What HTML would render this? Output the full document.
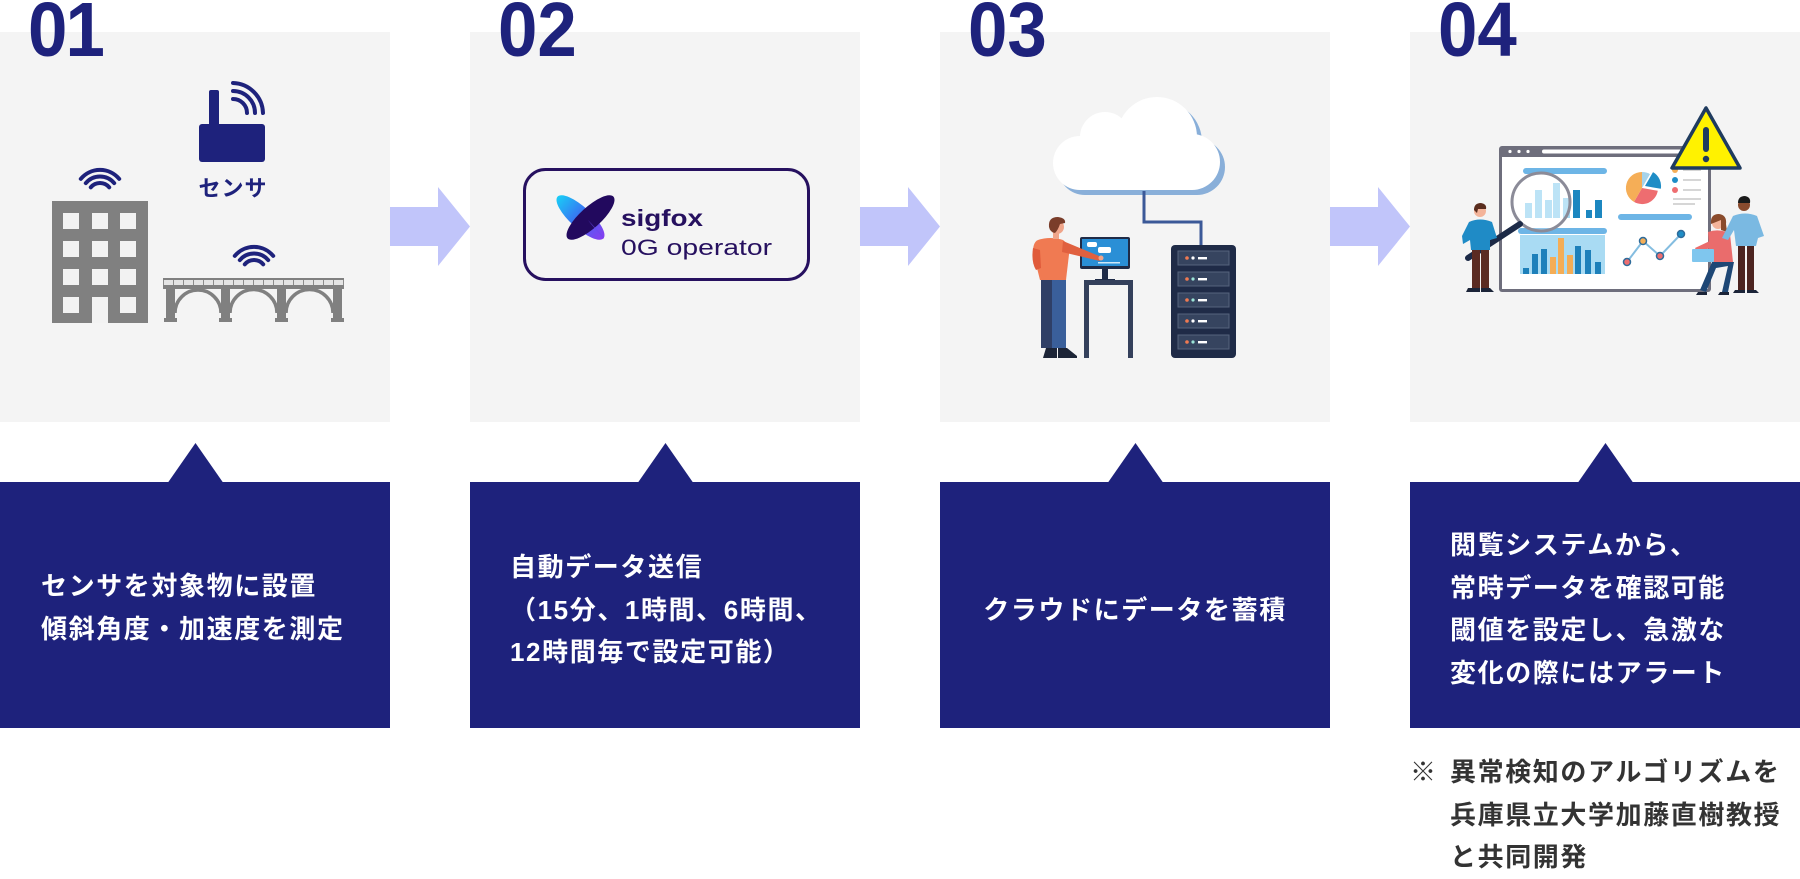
<!DOCTYPE html>
<html lang="ja">
<head>
<meta charset="utf-8">
<style>
  html,body{margin:0;padding:0;}
  body{width:1800px;height:870px;position:relative;overflow:hidden;background:#fff;
       font-family:"Liberation Sans","Noto Sans CJK JP",sans-serif;}
  .panel{position:absolute;top:32px;width:390px;height:390px;background:#f4f4f4;}
  .box{position:absolute;top:482px;width:390px;height:246px;background:#1e227c;}
  .num{position:absolute;top:-8px;font-family:"Liberation Sans",sans-serif;font-weight:700;
       font-size:77px;line-height:1;color:#1e227c;letter-spacing:0;white-space:nowrap;
       transform:scaleX(0.92);transform-origin:0 0;}
  .num .one{margin-left:-2px;}
  .t{position:absolute;color:#fff;font-family:"Liberation Sans","Noto Sans CJK JP",sans-serif;
     font-size:26px;font-weight:700;letter-spacing:1.6px;line-height:42.5px;white-space:nowrap;}
  .note{position:absolute;color:#333;font-family:"Liberation Sans","Noto Sans CJK JP",sans-serif;
     font-size:26px;font-weight:700;letter-spacing:1.6px;line-height:42.5px;white-space:nowrap;}
  svg{position:absolute;left:0;top:0;}
</style>
</head>
<body>

<div class="panel" style="left:0"></div>
<div class="panel" style="left:470px"></div>
<div class="panel" style="left:940px"></div>
<div class="panel" style="left:1410px"></div>

<div class="box" style="left:0"></div>
<div class="box" style="left:470px"></div>
<div class="box" style="left:940px"></div>
<div class="box" style="left:1410px"></div>

<svg width="1800" height="870" viewBox="0 0 1800 870" xmlns="http://www.w3.org/2000/svg">
  <defs>
    <linearGradient id="wing" x1="0" y1="0" x2="1" y2="0">
      <stop offset="0" stop-color="#19cdf6"/>
      <stop offset="0.5" stop-color="#3b6cf2"/>
      <stop offset="1" stop-color="#8a3cf0"/>
    </linearGradient>
  </defs>

  <!-- arrows -->
  <g fill="#c1c5fa">
    <polygon points="390,207 438,207 438,187 470,226.5 438,266 438,246 390,246"/>
    <polygon points="860,207 908,207 908,187 940,226.5 908,266 908,246 860,246"/>
    <polygon points="1330,207 1378,207 1378,187 1410,226.5 1378,266 1378,246 1330,246"/>
  </g>

  <!-- speech triangles -->
  <g fill="#1e227c">
    <polygon points="168,482.5 195.5,443 223,482.5"/>
    <polygon points="638,482.5 665.5,443 693,482.5"/>
    <polygon points="1108,482.5 1135.5,443 1163,482.5"/>
    <polygon points="1578,482.5 1605.5,443 1633,482.5"/>
  </g>

  <!-- ===== Panel 1 ===== -->
  <g fill="#1e227c">
    <rect x="209" y="90" width="10" height="38" rx="2"/>
    <rect x="199" y="124" width="66" height="38" rx="3"/>
  </g>
  <g fill="none" stroke="#1e227c" stroke-width="4" stroke-linecap="round">
    <path d="M233 83 A31 31 0 0 1 263 113"/>
    <path d="M233 91 A22 22 0 0 1 255 113"/>
    <path d="M233 99 A14 14 0 0 1 247 113"/>
  </g>
  <g fill="none" stroke="#1e227c" stroke-width="4" stroke-linecap="round">
    <path d="M80.8 178.9 A25 25 0 0 1 119.2 178.9"/>
    <path d="M85.8 183.1 A18.5 18.5 0 0 1 114.2 183.1"/>
    <path d="M90.8 187.3 A12 12 0 0 1 109.2 187.3"/>
  </g>
  <g fill="none" stroke="#1e227c" stroke-width="4" stroke-linecap="round">
    <path d="M234.8 255.9 A25 25 0 0 1 273.2 255.9"/>
    <path d="M239.8 260.1 A18.5 18.5 0 0 1 268.2 260.1"/>
    <path d="M244.8 264.3 A12 12 0 0 1 263.2 264.3"/>
  </g>
  <rect x="52" y="201" width="96" height="122" fill="#808080"/>
  <g fill="#f2f2f2">
    <rect x="63" y="213" width="16" height="16"/><rect x="92" y="213" width="16" height="16"/><rect x="120" y="213" width="16" height="16"/>
    <rect x="63" y="241" width="16" height="16"/><rect x="92" y="241" width="16" height="16"/><rect x="120" y="241" width="16" height="16"/>
    <rect x="63" y="269" width="16" height="16"/><rect x="92" y="269" width="16" height="16"/><rect x="120" y="269" width="16" height="16"/>
    <rect x="63" y="297" width="16" height="16"/><rect x="92" y="297" width="16" height="26"/><rect x="120" y="297" width="16" height="16"/>
  </g>
  <rect x="163" y="278" width="181" height="2" fill="#808080"/>
  <rect x="163" y="280" width="181" height="5" fill="#e4e4e4"/>
  <g fill="#8c8c8c">
    <rect x="163" y="280" width="1" height="5"/><rect x="173" y="280" width="1" height="5"/><rect x="183" y="280" width="1" height="5"/>
    <rect x="193" y="280" width="1" height="5"/><rect x="203" y="280" width="1" height="5"/><rect x="213" y="280" width="1" height="5"/>
    <rect x="223" y="280" width="1" height="5"/><rect x="233" y="280" width="1" height="5"/><rect x="243" y="280" width="1" height="5"/>
    <rect x="253" y="280" width="1" height="5"/><rect x="263" y="280" width="1" height="5"/><rect x="273" y="280" width="1" height="5"/>
    <rect x="283" y="280" width="1" height="5"/><rect x="293" y="280" width="1" height="5"/><rect x="303" y="280" width="1" height="5"/>
    <rect x="313" y="280" width="1" height="5"/><rect x="323" y="280" width="1" height="5"/><rect x="333" y="280" width="1" height="5"/>
    <rect x="343" y="280" width="1" height="5"/>
  </g>
  <rect x="163" y="285" width="181" height="4" fill="#808080"/>
  <g fill="#808080">
    <rect x="166" y="289" width="9" height="33"/><rect x="164" y="318" width="13" height="4"/>
    <rect x="221" y="289" width="9" height="33"/><rect x="219" y="318" width="13" height="4"/>
    <rect x="277" y="289" width="9" height="33"/><rect x="275" y="318" width="13" height="4"/>
    <rect x="333" y="289" width="9" height="33"/><rect x="331" y="318" width="13" height="4"/>
  </g>
  <g fill="none" stroke="#808080" stroke-width="3.5">
    <path d="M175 313 A23 23 0 0 1 221 313"/>
    <path d="M230 313 A23.5 23.5 0 0 1 277 313"/>
    <path d="M286 313 A23.5 23.5 0 0 1 333 313"/>
  </g>

  <!-- ===== Panel 2 : sigfox ===== -->
  <rect x="524.5" y="169.5" width="284" height="110" rx="21" fill="none" stroke="#26105f" stroke-width="3"/>
  <ellipse cx="580.5" cy="217.5" rx="31" ry="10.5" transform="rotate(42.3 580.5 217.5)" fill="url(#wing)"/>
  <ellipse cx="590.5" cy="217.5" rx="31" ry="10.5" transform="rotate(-42.3 590.5 217.5)" fill="#22095e"/>
  <path d="M588 220 L601 234 Q606 240 603 238 L591 224 Z" fill="#6a48f0" opacity="0.7"/>
  <text x="621" y="226" font-family="Liberation Sans, sans-serif" font-weight="700" font-size="23" fill="#26105f" textLength="82" lengthAdjust="spacingAndGlyphs">sigfox</text>
  <text x="621" y="255" font-family="Liberation Sans, sans-serif" font-size="22" fill="#26105f" textLength="151" lengthAdjust="spacingAndGlyphs">0G operator</text>

  <!-- ===== Panel 3 : cloud ===== -->
  <g fill="#89afd9" transform="translate(5 5)">
    <circle cx="1080" cy="163" r="27"/><circle cx="1105" cy="137" r="25"/>
    <circle cx="1157" cy="137" r="40"/><circle cx="1192" cy="162" r="28"/>
    <rect x="1080" y="150" width="112" height="40"/>
  </g>
  <g fill="#ffffff">
    <circle cx="1080" cy="163" r="27"/><circle cx="1105" cy="137" r="25"/>
    <circle cx="1157" cy="137" r="40"/><circle cx="1192" cy="162" r="28"/>
    <rect x="1080" y="150" width="112" height="40"/>
  </g>
  <path d="M1144 191 V222 H1201 V246" fill="none" stroke="#3b5998" stroke-width="3"/>
  <rect x="1171" y="245" width="65" height="113" rx="4" fill="#1f2b47"/>
  <g fill="#36445f" stroke="#56637c" stroke-width="1">
    <rect x="1178" y="251" width="51" height="14"/>
    <rect x="1178" y="272" width="51" height="14"/>
    <rect x="1178" y="293" width="51" height="14"/>
    <rect x="1178" y="314" width="51" height="14"/>
    <rect x="1178" y="335" width="51" height="14"/>
  </g>
  <g>
    <circle cx="1187" cy="258" r="1.8" fill="#f07a52"/><circle cx="1193" cy="258" r="1.6" fill="#fff"/><rect x="1198" y="257" width="9" height="2.4" fill="#fff"/>
    <circle cx="1187" cy="279" r="1.8" fill="#f07a52"/><circle cx="1193" cy="279" r="1.6" fill="#9be3d6"/><rect x="1198" y="278" width="9" height="2.4" fill="#fff"/>
    <circle cx="1187" cy="300" r="1.8" fill="#f07a52"/><circle cx="1193" cy="300" r="1.6" fill="#9be3d6"/><rect x="1198" y="299" width="9" height="2.4" fill="#fff"/>
    <circle cx="1187" cy="321" r="1.8" fill="#f07a52"/><circle cx="1193" cy="321" r="1.6" fill="#fff"/><rect x="1198" y="320" width="9" height="2.4" fill="#fff"/>
    <circle cx="1187" cy="342" r="1.8" fill="#f07a52"/><circle cx="1193" cy="342" r="1.6" fill="#9be3d6"/><rect x="1198" y="341" width="9" height="2.4" fill="#fff"/>
  </g>
  <rect x="1080" y="237" width="50" height="32" rx="2" fill="#1f2b47"/>
  <rect x="1082" y="239" width="46" height="27" fill="#2a8fd6"/>
  <rect x="1087" y="242" width="10" height="5" rx="2" fill="#fff"/>
  <rect x="1098" y="247" width="13" height="6" rx="2" fill="#fff"/>
  <rect x="1098" y="262" width="22" height="1.5" fill="#cfe8f8"/>
  <rect x="1102" y="269" width="6" height="10" fill="#1f2b47"/>
  <rect x="1095" y="279" width="20" height="2" fill="#1f2b47"/>
  <rect x="1084" y="280" width="49" height="5" fill="#34405b"/>
  <rect x="1084" y="285" width="5" height="73" fill="#34405b"/>
  <rect x="1128" y="285" width="5" height="73" fill="#34405b"/>
  <rect x="1041" y="278" width="12" height="70" fill="#2f3f66"/>
  <rect x="1052" y="278" width="14" height="70" fill="#3a5f9a"/>
  <path d="M1046 348 h11 v10 h-14 z" fill="#1c2436"/>
  <path d="M1058 348 h9 l10 8 v2 h-19 z" fill="#1c2436"/>
  <path d="M1038 240 Q1050 236 1063 240 L1070 246 L1066 280 L1040 280 L1033 252 Q1033 242 1038 240 Z" fill="#f07a52"/>
  <path d="M1033 248 Q1031 262 1036 270 L1041 268 L1040 250 Z" fill="#e05a3a"/>
  <path d="M1063 241 L1099 256 L1100 261 L1062 252 Z" fill="#e0603f"/>
  <circle cx="1101" cy="258" r="2.5" fill="#f0a58a"/>
  <rect x="1053" y="231" width="6" height="8" fill="#f0a58a"/>
  <circle cx="1057" cy="227" r="7" fill="#f0a58a"/>
  <path d="M1049 227 Q1048 217 1058 217 Q1066 218 1065 223 L1060 224 Q1058 230 1055 233 Q1050 232 1049 227 Z" fill="#7a3d2a"/>

  <!-- ===== Panel 4 : dashboard ===== -->
  <rect x="1499" y="146" width="212" height="146" rx="3" fill="#6e6e7c"/>
  <rect x="1502" y="157" width="206" height="132" fill="#ffffff"/>
  <circle cx="1510" cy="151.5" r="1.6" fill="#fff"/><circle cx="1519" cy="151.5" r="1.6" fill="#fff"/><circle cx="1528" cy="151.5" r="1.6" fill="#fff"/>
  <rect x="1542" y="149.5" width="140" height="4" rx="2" fill="#fff"/>
  <g fill="#6db5e6">
    <rect x="1523" y="168" width="84" height="6" rx="3"/>
    <rect x="1518" y="228" width="89" height="6" rx="3"/>
    <rect x="1618" y="214" width="74" height="6" rx="3"/>
  </g>
  <g fill="#1c87c0">
    <rect x="1573" y="190" width="7" height="28"/><rect x="1586" y="210" width="6" height="8"/><rect x="1595" y="200" width="7" height="18"/>
  </g>
  <g fill="#a6daf3">
    <rect x="1525" y="203" width="7" height="15"/><rect x="1535" y="190" width="7" height="28"/>
    <rect x="1545" y="200" width="7" height="18"/><rect x="1553" y="183" width="7" height="35"/><rect x="1563" y="198" width="7" height="20"/>
  </g>
  <rect x="1520" y="235" width="85" height="39" fill="#a9dbf3"/>
  <g fill="#1d80ba">
    <rect x="1523" y="268" width="6" height="6"/><rect x="1532" y="254" width="6" height="20"/><rect x="1541" y="249" width="6" height="25"/>
    <rect x="1575" y="246" width="6" height="28"/><rect x="1585" y="250" width="6" height="24"/><rect x="1595" y="262" width="6" height="12"/>
  </g>
  <g fill="#f4ad56">
    <rect x="1550" y="257" width="6" height="17"/><rect x="1558" y="238" width="6" height="36"/><rect x="1567" y="255" width="6" height="19"/>
  </g>
  <circle cx="1541" cy="202" r="29" fill="#ffffff" fill-opacity="0.25" stroke="#8b8b98" stroke-width="3"/>
  <line x1="1520" y1="224" x2="1468" y2="258" stroke="#1c2a47" stroke-width="6" stroke-linecap="round"/>
  <path d="M1642 188 L1657.8 190.8 A16 16 0 0 1 1634 201.9 Z" fill="#ee6d70"/>
  <path d="M1642 188 L1634 201.9 A16 16 0 0 1 1642 172 Z" fill="#f5ae57"/>
  <path d="M1642 188 L1642 172 A16 16 0 0 1 1650 174.1 Z" fill="#a6d3ea"/>
  <path d="M1645 186 L1653 172.1 A16 16 0 0 1 1660.8 188.8 Z" fill="#1f8dc6"/>
  <circle cx="1675" cy="170" r="3" fill="#f5ae57"/><circle cx="1675" cy="180" r="3" fill="#1f8dc6"/><circle cx="1675" cy="190" r="3" fill="#ee6d70"/>
  <g fill="#d6d6d6">
    <rect x="1683" y="169" width="18" height="2"/><rect x="1683" y="179" width="18" height="2"/><rect x="1683" y="189" width="18" height="2"/>
    <rect x="1673" y="198" width="28" height="2"/><rect x="1673" y="203" width="22" height="2"/>
  </g>
  <polyline points="1627,262 1643,241 1660,256 1681,234" fill="none" stroke="#84bde0" stroke-width="2"/>
  <g stroke="#2e6b9a" stroke-width="1.5">
    <circle cx="1627" cy="262" r="3.5" fill="#ee6d70"/><circle cx="1643" cy="241" r="3.5" fill="#f5ae57"/>
    <circle cx="1660" cy="256" r="3.5" fill="#ee6d70"/><circle cx="1681" cy="234" r="3.5" fill="#1f8dc6"/>
  </g>
  <polygon points="1706,108 1672,168 1740,168" fill="#fff200" stroke="#1f3b5e" stroke-width="3.5" stroke-linejoin="round"/>
  <rect x="1703" y="127" width="6" height="25" rx="3" fill="#1f3b5e"/>
  <circle cx="1706" cy="159" r="3.2" fill="#1f3b5e"/>
  <rect x="1472" y="248" width="8" height="40" fill="#5b2b22"/><rect x="1481" y="248" width="8" height="40" fill="#5b2b22"/>
  <path d="M1468 288 h12 v4 h-14 z M1481 288 h9 l4 4 h-13 z" fill="#1b2438"/>
  <path d="M1469 222 Q1480 217 1492 222 L1497 238 L1490 240 L1490 250 L1471 250 L1470 240 L1463 244 L1462 236 Z" fill="#1f8bc6"/>
  <circle cx="1480" cy="211" r="6" fill="#f4b49a"/>
  <path d="M1474 210 Q1474 203 1481 203 Q1487 204 1486 209 L1478 209 L1477 213 Z" fill="#5a2d1e"/>
  <path d="M1712 262 L1700 290 L1706 292 L1716 268 L1728 266 L1722 292 L1728 292 L1734 262 Z" fill="#1e4775"/>
  <path d="M1698 292 h9 v3 h-11 z M1720 292 h9 v3 h-11 z" fill="#1b2438"/>
  <path d="M1708 232 Q1720 228 1730 234 L1733 262 L1710 262 Z" fill="#ea6c6c"/>
  <path d="M1712 240 L1695 248 L1697 252 L1714 247 Z" fill="#ea6c6c"/>
  <rect x="1692" y="249" width="22" height="13" rx="1" fill="#7fc6ee"/>
  <circle cx="1718" cy="223" r="6" fill="#f4b49a"/>
  <path d="M1711 224 Q1710 214 1719 214 Q1727 215 1726 224 L1727 232 L1721 230 L1721 220 Z" fill="#8a4b2c"/>
  <rect x="1738" y="245" width="7" height="45" fill="#4c2420"/><rect x="1747" y="245" width="7" height="45" fill="#4c2420"/>
  <path d="M1735 290 h10 v3 h-12 z M1747 290 h9 l3 3 h-12 z" fill="#1b2438"/>
  <path d="M1733 216 Q1745 211 1757 216 L1764 236 L1758 238 L1756 246 L1736 246 L1734 230 L1728 240 L1722 238 Z" fill="#7ab9e2"/>
  <circle cx="1744" cy="205" r="6" fill="#8a4b2e"/>
  <path d="M1738 203 Q1738 196 1745 196 Q1751 197 1750 203 Z" fill="#1a1a1a"/>
</svg>

<!-- step numbers -->
<div class="num" style="left:28px">0<span class="one">1</span></div>
<div class="num" style="left:498px">02</div>
<div class="num" style="left:968px">03</div>
<div class="num" style="left:1438px">04</div>

<!-- sensor label -->
<div style="position:absolute;left:196px;top:174px;width:74px;text-align:center;font-family:'Liberation Sans','Noto Sans CJK JP',sans-serif;font-size:22px;font-weight:700;letter-spacing:1px;line-height:30px;color:#1e227c;white-space:nowrap;">センサ</div>

<!-- box texts -->
<div class="t" style="left:41px;top:565px;">センサを対象物に設置<br>傾斜角度・加速度を測定</div>
<div class="t" style="left:510px;top:546px;">自動データ送信<br>（15分、1時間、6時間、<br>12時間毎で設定可能）</div>
<div class="t" style="left:940px;top:589px;width:390px;text-align:center;">クラウドにデータを蓄積</div>
<div class="t" style="left:1450px;top:524px;">閲覧システムから、<br>常時データを確認可能<br>閾値を設定し、急激な<br>変化の際にはアラート</div>

<!-- note -->
<div class="note" style="left:1410px;top:751px;">※</div>
<div class="note" style="left:1450px;top:751px;">異常検知のアルゴリズムを<br>兵庫県立大学加藤直樹教授<br>と共同開発</div>

</body>
</html>
